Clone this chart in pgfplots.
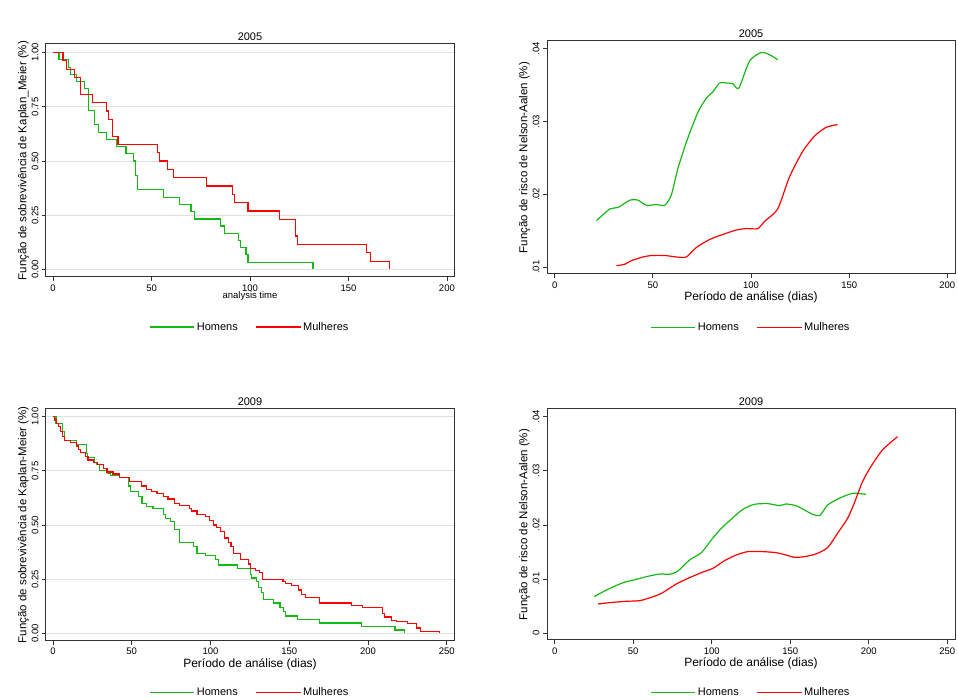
\documentclass[border=0pt]{standalone}
\usepackage{pgfplots}
\pgfplotsset{compat=1.18}
\usepackage{fontspec}
\setmainfont{Liberation Sans}
\definecolor{mygreen}{RGB}{20,185,20}
\definecolor{myred}{RGB}{255,0,0}
\pgfplotsset{
 stata/.style={scale only axis,width=408pt,height=233pt,anchor=south west,
  axis line style={black!80,line width=1pt},
  tick align=outside,xtick pos=bottom,ytick pos=left,
  scaled y ticks=false,scaled x ticks=false,
  xticklabel={\pgfmathprintnumber[assume math mode=true]{\tick}},
  major tick length=4pt,tick style={black!80,line width=0.7pt},
  ticklabel style={font=\fontsize{9.5}{10}\selectfont},
  yticklabel style={rotate=90,anchor=south},
  title style={font=\fontsize{11}{12}\selectfont,yshift=-6pt},
  ylabel style={font=\fontsize{11.5}{12}\selectfont,yshift=-4pt},
  xlabel style={font=\fontsize{12}{13}\selectfont,yshift=3pt},
  legend columns=2,
  legend style={draw=none,fill=none,font=\fontsize{11}{12}\selectfont,
   /tikz/every even column/.append style={column sep=16pt}},
  legend image code/.code={\draw[#1] (0cm,0cm) -- (1.55cm,0cm);}},
 km/.style={ymajorgrids,grid style={black!12,line width=0.9pt},
  ytick={0,0.25,0.5,0.75,1},
  yticklabel={\pgfmathprintnumber[fixed,fixed zerofill,precision=2,assume math mode=true]{\tick}}},
 na/.style={ytick={0,0.01,0.02,0.03,0.04},
  yticklabel={\pgfmathprintnumber[fixed,precision=2,skip 0.,assume math mode=true]{\tick}}},
 gl/.style={draw=mygreen,line width=1.2pt},
 rl/.style={draw=myred,line width=1.2pt}
}
\begin{document}
\begin{tikzpicture}
\path[use as bounding box] (0pt,0pt) rectangle (958pt,700pt);
% TL
\begin{axis}[stata,km,at={(46pt,423pt)},xmin=-3.6,xmax=203.6,ymin=-0.035,ymax=1.04,
 xtick={0,50,100,150,200},title={2005},
 xlabel={analysis time},xlabel style={font=\fontsize{9.5}{10}\selectfont,yshift=3pt},
 ylabel={Função de sobrevivência de Kaplan\_Meier (\%)},
 legend style={at={(0.5,-0.215)},anchor=center}]
\addplot[gl,const plot] coordinates {(0,1)(3,.967)(8,.933)(9,.9)(12,.867)(16,.833)(18,.733)(21,.667)(23,.633)(27,.6)(32,.567)(37,.533)(41,.5)(42,.433)(43,.367)(56,.333)(64,.3)(70,.267)(72,.233)(85,.2)(87,.167)(94,.133)(95,.1)(98,.067)(99,.033)(132,0)};
\addplot[rl,const plot] coordinates {(0,1)(5,.962)(7,.923)(11,.885)(14,.808)(20,.769)(27,.731)(28,.692)(30,.615)(33,.577)(53,.538)(54,.5)(58,.462)(61,.423)(78,.385)(91,.346)(92,.308)(99,.269)(115,.231)(123,.154)(124,.115)(159,.077)(161,.038)(171,0)};
\legend{Homens,Mulheres}
\end{axis}
% TR
\begin{axis}[stata,na,at={(547pt,426pt)},xmin=-3.9,xmax=203.9,ymin=0.00906,ymax=0.04108,
 xtick={0,50,100,150,200},
 title={2005},xlabel={Período de análise (dias)},
 ylabel={Função de risco de Nelson-Aalen (\%)},
 legend style={at={(0.5,-0.23)},anchor=center}]
\addplot[gl,smooth,tension=0.4] coordinates {(21.3,.0164)(28.1,.0180)(32.3,.0182)(38.3,.0192)(42.5,.0192)(46.7,.0185)(51.8,.0186)(56.1,.0185)(59.4,.0199)(62.8,.0236)(67.9,.0278)(73,.0313)(77.2,.0332)(80.6,.0341)(84,.0353)(88.2,.0353)(90.8,.0352)(93.8,.0346)(99.2,.0383)(105.1,.0395)(109.4,.0392)(113.6,.0385)};
\addplot[rl,smooth,tension=0.4] coordinates {(31.5,.0102)(35.7,.0104)(39.1,.0109)(45,.0114)(49.3,.0116)(56.1,.0116)(62,.0114)(67.1,.0114)(72.1,.0127)(78.9,.0138)(85.7,.0145)(92.5,.0151)(97.5,.0153)(103.5,.0153)(106.9,.0163)(113.6,.0180)(119.6,.0224)(126.3,.0259)(132.3,.0280)(138.2,.0292)(144.1,.0296)};
\legend{Homens,Mulheres}
\end{axis}
% BL
\begin{axis}[stata,km,at={(46pt,59.3pt)},height=231.7pt,xmin=-4.4,xmax=254.6,ymin=-0.034,ymax=1.0355,
 xtick={0,50,100,150,200,250},title={2009},xlabel={Período de análise (dias)},
 ylabel={Função de sobrevivência de Kaplan-Meier (\%)},
 legend style={at={(0.5,-0.224)},anchor=center}]
\addplot[gl,const plot] coordinates {(0,1)(1.9,.967)(6.1,.93)(7.4,.89)(14.8,.87)(21.1,.83)(22,.81)(26.4,.79)(28,.78)(29.6,.75)(34.7,.74)(36.4,.73)(42.3,.72)(48,.68)(49,.655)(54.4,.63)(56.5,.6)(59.6,.585)(63.5,.575)(70.2,.55)(71.3,.53)(74.5,.515)(77.2,.48)(80.4,.42)(89.3,.4)(91.4,.37)(96.7,.36)(103,.34)(105,.315)(117.2,.3)(125.2,.27)(126.3,.255)(129,.24)(130.5,.21)(132.2,.19)(133.7,.155)(140,.14)(144.2,.12)(146.4,.1)(147.4,.08)(155.2,.062)(169.2,.048)(196,.033)(217.2,.015)(223.1,0)};
\addplot[rl,const plot] coordinates {(0,1)(1.1,.985)(2.5,.97)(3.6,.955)(4.7,.93)(5.9,.91)(7.2,.89)(11,.88)(14.8,.865)(16.3,.85)(17.3,.835)(20.5,.815)(22.2,.8)(25.8,.79)(28.3,.78)(32.1,.76)(34.3,.745)(38.1,.735)(42.3,.72)(48.6,.7)(56,.68)(59.2,.665)(62.8,.655)(66,.645)(70.2,.63)(73,.62)(77.2,.6)(80.4,.59)(86.7,.575)(88.2,.565)(91.4,.55)(96.7,.54)(99.4,.52)(102,.5)(104,.49)(106.6,.47)(108.7,.44)(111.5,.42)(113,.4)(114.6,.37)(118.9,.34)(124.2,.32)(125.6,.3)(128.4,.29)(131.1,.28)(133.2,.25)(146,.24)(147.4,.23)(151.6,.22)(155.9,.2)(158,.18)(160.1,.165)(169.2,.14)(189.3,.13)(196.5,.12)(209.2,.09)(210.4,.075)(215.1,.06)(218.3,.055)(225,.045)(231,.025)(233.5,.01)(245.3,0)};
\legend{Homens,Mulheres}
\end{axis}
% BR
\begin{axis}[stata,na,at={(547pt,60pt)},height=231pt,xmin=-4.9,xmax=254.9,ymin=-0.00124,ymax=0.04142,
 xtick={0,50,100,150,200,250},
 title={2009},xlabel={Período de análise (dias)},
 ylabel={Função de risco de Nelson-Aalen (\%)},
 legend style={at={(0.5,-0.228)},anchor=center}]
\addplot[gl,smooth,tension=0.4] coordinates {(25.2,.00677)(33,.0080)(43.6,.00935)(52.1,.00997)(58.4,.01046)(66.9,.01095)(73.2,.01089)(78.5,.01151)(85.9,.01354)(93.4,.01489)(99.7,.01723)(106.1,.01938)(113.5,.02135)(119.8,.02289)(127.2,.02382)(135.7,.02394)(143.1,.02357)(147.3,.02388)(153.7,.02357)(159,.02277)(164.3,.02197)(168.9,.02178)(173.8,.02369)(181.2,.02492)(189.7,.02585)(198.1,.02566)};
\addplot[rl,smooth,tension=0.4] coordinates {(27.7,.00542)(37.3,.00572)(45.7,.00591)(54.2,.00603)(61.6,.00665)(68,.00738)(77.5,.00911)(84.9,.01015)(93.4,.0112)(100.8,.0120)(108.2,.01342)(115.6,.01446)(123,.01508)(132.5,.01508)(141,.01489)(147.3,.01446)(152.6,.01403)(159,.01415)(166.4,.01465)(173.8,.01582)(180.1,.01846)(186.5,.02123)(190.7,.024)(196,.028)(201.3,.03077)(208.7,.03385)(218.3,.03631)};
\legend{Homens,Mulheres}
\end{axis}
\end{tikzpicture}
\end{document}
